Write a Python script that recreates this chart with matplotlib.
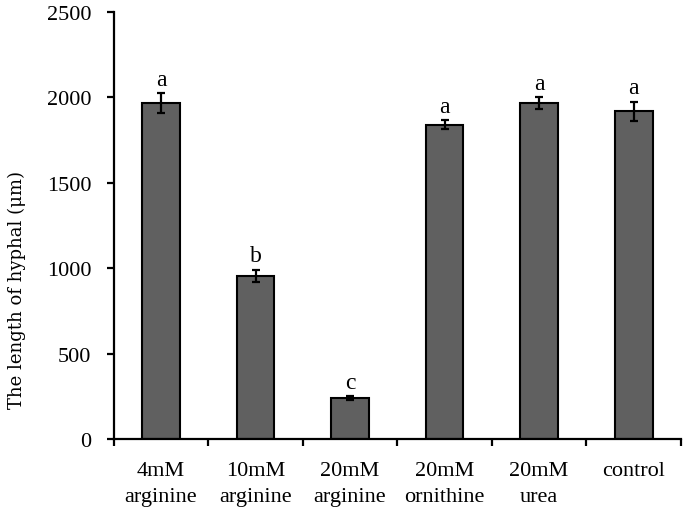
import matplotlib

matplotlib.use("Agg")
import matplotlib.pyplot as plt
import numpy as np

categories = ["4mM\narginine", "10mM\narginine", "20mM\narginine", "20mM\nornithine", "20mM\nurea", "control"]
lengths = [1965, 957, 240, 1840, 1965, 1918]
errors = [60, 35, 12, 25, 35, 55]
letters = ["a", "b", "c", "a", "a", "a"]

plt.rcParams["font.family"] = ["Liberation Serif", "DejaVu Serif"]

fig = plt.figure(figsize=(6.85, 5.1), dpi=100)
ax = fig.add_axes([0.166, 0.137, 0.828, 0.838])

x = np.arange(len(categories))
ax.bar(x, lengths, width=0.4, color="#606060", edgecolor="black", linewidth=1.5, zorder=2)
ax.errorbar(x, lengths, yerr=errors, fmt="none", ecolor="black", elinewidth=1.6,
            capsize=3, capthick=1.6, zorder=3)
for xi, val, err, lab in zip(x, lengths, errors, letters):
    ax.text(xi, val + err + 20, lab, ha="center", va="bottom", fontsize=17)

ax.set_xlim(-0.5, len(categories) - 0.5)
ax.set_ylim(0, 2500)
ax.set_yticks(np.arange(0, 2501, 500))
ax.set_xticks(np.arange(-0.5, len(categories), 1.0))
ax.set_xticklabels([])
ax.set_xticks(x, minor=True)
ax.set_xticklabels(categories, minor=True, fontsize=16, linespacing=1.45)
ax.tick_params(axis="x", which="minor", length=0, pad=16)
ax.tick_params(axis="x", which="major", length=5, width=1.6, direction="out")
ax.tick_params(axis="y", length=5, width=1.6, direction="out", labelsize=16, pad=11)
ax.spines["top"].set_visible(False)
ax.spines["right"].set_visible(False)
ax.spines["left"].set_linewidth(1.6)
ax.spines["bottom"].set_linewidth(1.6)

fig.text(17 / 685, 1 - 290 / 510, "The length of hyphal (\u03bcm)", rotation=90,
         ha="center", va="center", fontsize=13, family=["DejaVu Serif"])

fig.savefig("out.png", dpi=100)
